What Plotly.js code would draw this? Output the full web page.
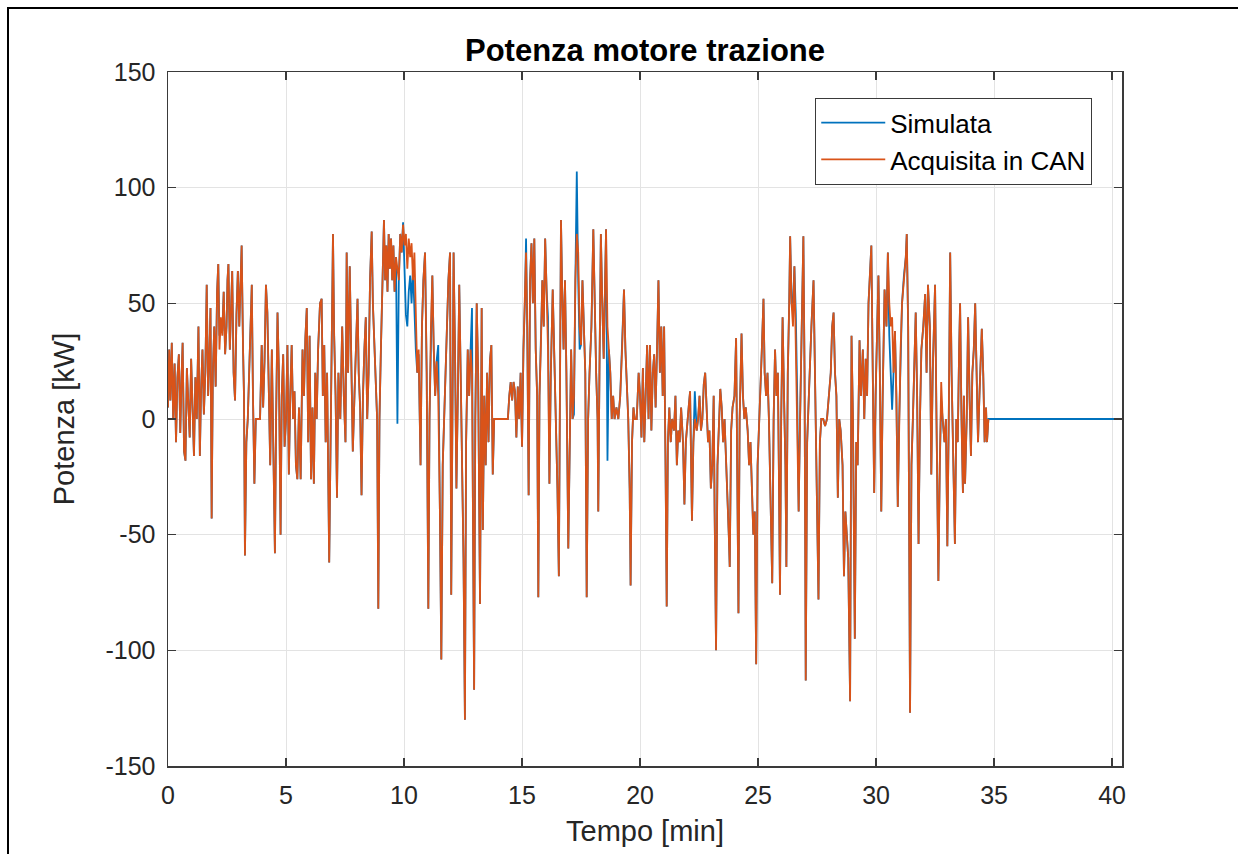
<!DOCTYPE html>
<html>
<head>
<meta charset="utf-8">
<script src="https://cdn.plot.ly/plotly-3.0.1.min.js"></script>
<style>
  html, body { margin: 0; padding: 0; background: #fff; }
  #wrap { position: relative; width: 1238px; height: 854px; overflow: hidden; }
  #chart { width: 1238px; height: 854px; }
  #frame { position: absolute; left: 7px; top: 7px; width: 1240px; height: 860px;
           border-left: 2px solid #000; border-top: 2px solid #000; pointer-events: none; }
</style>
</head>
<body>
<div id="wrap"><div id="chart"></div><div id="frame"></div></div>
<script>
// ---- DATA ----
const tempo = [
  0.00,0.05,0.10,0.16,0.22,0.28,0.34,0.40,0.46,0.52,
  0.58,0.62,0.68,0.74,0.80,0.86,0.92,0.98,1.04,1.10,
  1.16,1.22,1.29,1.35,1.40,1.46,1.52,1.58,1.64,1.70,
  1.76,1.80,1.85,1.90,1.96,2.02,2.08,2.13,2.18,2.24,
  2.30,2.36,2.42,2.48,2.52,2.56,2.62,2.68,2.72,2.78,
  2.84,2.90,2.96,3.02,3.08,3.12,3.18,3.22,3.26,3.32,
  3.38,3.44,3.50,3.55,3.60,3.66,3.72,3.80,3.90,3.97,
  4.03,4.09,4.15,4.21,4.27,4.33,4.40,4.46,4.53,4.58,
  4.64,4.70,4.77,4.82,4.88,4.94,5.00,5.06,5.12,5.18,
  5.24,5.30,5.36,5.42,5.48,5.55,5.62,5.70,5.76,5.82,
  5.88,5.94,6.00,6.06,6.12,6.18,6.24,6.30,6.36,6.44,
  6.51,6.56,6.62,6.68,6.74,6.83,6.90,6.99,7.04,7.10,
  7.16,7.22,7.30,7.38,7.45,7.52,7.57,7.63,7.70,7.76,
  7.83,7.90,7.97,8.03,8.08,8.14,8.20,8.26,8.32,8.38,
  8.44,8.50,8.56,8.63,8.68,8.74,8.80,8.86,8.91,8.96,
  9.02,9.08,9.15,9.20,9.25,9.30,9.35,9.40,9.45,9.50,
  9.55,9.60,9.66,9.72,9.78,9.84,9.90,9.96,10.02,10.08,
  10.14,10.20,10.26,10.32,10.38,10.44,10.50,10.56,10.62,10.70,
  10.76,10.82,10.89,10.96,11.03,11.08,11.14,11.20,11.26,11.32,
  11.38,11.45,11.52,11.58,11.64,11.70,11.76,11.82,11.88,11.95,
  12.00,12.05,12.10,12.16,12.22,12.28,12.34,12.40,12.46,12.52,
  12.58,12.63,12.70,12.76,12.82,12.88,12.92,12.97,13.02,13.08,
  13.14,13.18,13.22,13.29,13.34,13.40,13.46,13.52,13.58,13.64,
  13.70,13.76,13.82,13.90,14.00,14.10,14.20,14.30,14.40,14.46,
  14.52,14.58,14.64,14.70,14.76,14.82,14.88,14.94,15.00,15.06,
  15.12,15.17,15.22,15.28,15.34,15.40,15.46,15.52,15.58,15.64,
  15.69,15.74,15.80,15.86,15.92,15.98,16.04,16.10,16.16,16.22,
  16.30,16.36,16.42,16.50,16.56,16.60,16.65,16.70,16.76,16.82,
  16.88,16.96,17.02,17.08,17.14,17.20,17.26,17.32,17.38,17.44,
  17.50,17.56,17.62,17.68,17.74,17.80,17.86,17.94,18.02,18.08,
  18.14,18.20,18.23,18.28,18.34,18.40,18.46,18.52,18.56,18.62,
  18.68,18.74,18.80,18.86,18.92,19.00,19.08,19.16,19.24,19.32,
  19.38,19.44,19.50,19.56,19.60,19.66,19.72,19.78,19.86,19.94,
  20.00,20.06,20.12,20.18,20.24,20.30,20.36,20.42,20.48,20.54,
  20.60,20.66,20.72,20.78,20.84,20.90,20.96,21.02,21.08,21.13,
  21.18,21.24,21.30,21.36,21.44,21.50,21.56,21.62,21.68,21.74,
  21.82,21.88,21.94,22.00,22.06,22.12,22.16,22.20,22.26,22.32,
  22.40,22.46,22.52,22.58,22.64,22.70,22.76,22.82,22.88,22.94,
  23.00,23.06,23.12,23.16,23.22,23.28,23.34,23.40,23.46,23.52,
  23.58,23.64,23.70,23.76,23.80,23.86,23.92,24.00,24.07,24.12,
  24.17,24.22,24.30,24.36,24.42,24.48,24.56,24.62,24.68,24.74,
  24.80,24.86,24.92,24.98,25.04,25.10,25.16,25.23,25.28,25.34,
  25.40,25.46,25.52,25.60,25.66,25.72,25.78,25.84,25.88,25.93,
  25.98,26.04,26.10,26.16,26.20,26.26,26.32,26.36,26.42,26.48,
  26.54,26.60,26.66,26.72,26.78,26.84,26.88,26.92,26.97,27.02,
  27.08,27.14,27.20,27.26,27.35,27.42,27.48,27.56,27.62,27.68,
  27.76,27.84,27.92,28.00,28.08,28.14,28.20,28.26,28.32,28.38,
  28.44,28.50,28.58,28.64,28.70,28.76,28.82,28.90,28.96,29.02,
  29.10,29.16,29.22,29.30,29.36,29.44,29.50,29.56,29.62,29.68,
  29.74,29.80,29.86,29.92,29.98,30.04,30.10,30.16,30.22,30.28,
  30.36,30.44,30.50,30.56,30.62,30.68,30.74,30.80,30.86,30.92,
  30.98,31.04,31.10,31.18,31.26,31.30,31.36,31.44,31.50,31.56,
  31.62,31.68,31.74,31.80,31.86,31.92,32.00,32.08,32.14,32.20,
  32.28,32.34,32.40,32.46,32.50,32.56,32.64,32.70,32.76,32.82,
  32.90,32.96,33.02,33.08,33.14,33.20,33.28,33.34,33.40,33.46,
  33.52,33.56,33.62,33.68,33.72,33.77,33.84,33.90,33.96,34.02,
  34.08,34.14,34.20,34.26,34.32,34.38,34.44,34.48,34.54,34.60,
  34.66,34.70,34.76
];

const acquisitaCAN = [
  5,30,8,33,0,24,-10,18,28,-6,
  20,33,-14,-18,22,10,-8,26,4,-16,
  18,0,40,-16,12,30,2,20,58,10,
  30,48,-43,20,40,14,55,67,30,44,
  36,55,28,40,60,67,30,50,64,20,
  8,45,64,40,60,75,30,10,-59,-10,
  0,20,35,58,10,-28,0,0,0,32,
  5,25,58,46,10,-20,30,-10,-58,0,
  46,20,-50,10,28,-12,0,32,-24,10,
  32,0,12,-20,-26,5,-26,30,10,35,
  48,-10,36,-26,5,-28,20,0,30,50,
  52,10,32,-10,20,-62,10,80,36,10,
  -34,20,0,40,10,-10,72,20,66,30,
  -14,10,30,52,20,5,-33,10,30,44,
  0,20,60,81,50,30,10,0,-82,0,
  30,60,86,60,75,55,80,65,78,60,
  75,55,70,65,60,80,72,84,75,80,
  65,78,70,76,60,72,40,20,30,-20,
  40,60,72,20,-82,0,40,62,30,10,
  25,10,-40,-104,-20,0,20,40,60,72,
  -76,0,72,30,-30,10,58,20,-20,-60,
  -130,-10,30,10,30,20,-40,-117,0,50,
  20,-48,-80,48,-48,10,-20,20,-10,25,
  32,-24,0,0,0,0,0,0,0,10,
  16,8,16,12,-8,14,0,20,-12,30,
  50,72,40,-33,60,76,50,78,30,10,
  -77,10,32,60,40,78,56,30,-28,20,
  56,30,10,-30,-68,20,86,56,30,60,
  20,-56,0,30,0,10,60,80,72,40,
  32,60,40,20,-77,0,20,40,82,40,
  20,0,-40,20,80,50,26,60,82,40,
  30,20,0,10,0,5,0,10,30,56,
  30,15,0,-30,-72,-10,5,0,0,20,
  10,-8,22,-10,15,32,0,32,-5,20,
  28,5,30,60,20,40,10,40,-20,-81,
  -10,5,-10,0,-5,10,-20,-5,-10,5,
  -10,-37,-10,0,5,12,-20,-44,-10,0,
  -5,0,10,-5,0,15,20,5,-10,-5,
  -30,-20,10,-40,-100,-20,0,13,5,-10,
  0,-15,-30,-50,-64,-5,5,10,35,-30,
  -84,0,37,10,0,5,-5,-20,-10,-30,
  -50,-40,-106,-20,0,20,30,52,20,10,
  20,0,-30,-71,0,30,10,20,-20,-76,
  0,44,10,-20,-64,20,50,79,50,40,
  66,30,10,-40,0,30,50,79,20,-113,
  -10,10,30,40,60,20,-24,-78,-10,0,
  0,-3,0,10,20,40,46,20,10,-34,
  0,-5,-20,-68,-40,-50,-60,-122,36,0,
  -95,-10,-20,34,10,30,0,26,10,50,
  60,75,20,-32,10,40,62,20,-40,10,
  56,40,72,50,40,44,20,38,10,-38,
  0,30,50,60,70,80,40,-127,-20,0,
  20,46,10,-54,0,30,40,54,20,58,
  40,-24,20,40,58,0,-70,-20,16,0,
  -10,0,-55,0,72,20,-20,-54,0,-10,
  30,50,0,-32,10,-28,0,44,10,-16,
  20,30,50,20,-10,10,30,39,20,-10,
  5,-10,0
];

const simulata = [
  5,30,8,33,0,24,-10,18,28,-6,
  20,33,-14,-18,22,10,-8,26,4,-16,
  18,0,40,-16,12,30,2,20,58,10,
  30,48,-43,20,40,14,55,67,36,40,
  38,55,28,40,60,67,30,50,64,20,
  8,45,64,40,60,75,30,10,-59,-10,
  0,20,35,58,10,-28,0,0,0,32,
  5,25,58,46,10,-20,30,-10,-58,0,
  46,20,-50,10,28,-12,0,32,-24,10,
  32,0,12,-20,-26,5,-26,30,10,35,
  48,-10,36,-26,5,-28,20,0,30,50,
  52,10,32,-10,20,-62,10,80,36,10,
  -34,20,0,40,10,-10,72,20,66,30,
  -14,10,30,52,20,5,-33,10,30,44,
  0,20,60,81,50,30,10,0,-82,0,
  30,60,86,60,75,55,80,65,78,60,
  75,55,70,-2,60,80,72,85,60,45,
  40,55,62,50,65,45,30,20,28,-20,
  40,60,72,20,-82,0,40,62,30,10,
  25,32,-40,-104,-20,0,20,40,60,72,
  -76,0,72,30,-30,10,58,20,-20,-60,
  -130,-10,30,10,30,48,-40,-117,0,50,
  20,-48,-80,48,-48,10,-20,20,-10,25,
  32,-24,0,0,0,0,0,0,0,10,
  16,8,16,12,-8,14,0,20,-12,30,
  50,78,40,-33,60,76,50,78,30,10,
  -77,10,32,60,40,78,56,44,-28,20,
  56,30,10,-30,-68,20,86,56,30,60,
  20,-56,0,30,0,2,60,107,60,30,
  32,60,40,20,-77,0,20,40,82,40,
  20,0,-40,20,80,50,26,60,82,-18,
  30,20,0,10,0,5,0,10,30,56,
  30,15,0,-30,-72,-10,5,0,0,20,
  10,-8,22,-10,15,32,0,32,-5,20,
  28,5,30,60,20,40,10,40,-20,-81,
  -10,5,-10,0,-5,10,-20,-5,-10,5,
  -10,-37,-10,0,5,12,-20,-44,-10,12,
  -5,0,10,-5,0,15,20,5,-10,-5,
  -30,-20,10,-40,-100,-20,0,13,5,-10,
  0,-15,-30,-50,-64,-5,5,10,35,-30,
  -84,0,37,10,0,5,-5,-20,-10,-30,
  -50,-40,-106,-20,0,20,30,52,20,10,
  20,0,-30,-71,0,30,10,20,-20,-76,
  0,44,10,-20,-64,20,50,79,50,50,
  66,45,10,-40,0,30,50,79,20,-113,
  -10,10,30,40,60,20,-24,-78,-10,0,
  0,-3,0,10,20,40,46,20,10,-34,
  0,-5,-20,-68,-40,-50,-60,-122,36,0,
  -95,-10,-20,34,10,30,0,26,10,50,
  60,75,20,-32,10,40,62,20,-40,10,
  56,40,72,36,20,4,20,38,10,-38,
  0,30,50,62,70,80,40,-127,-20,0,
  20,46,10,-54,0,30,40,54,20,58,
  40,-24,20,40,58,0,-70,-20,8,0,
  -10,0,-55,0,72,20,-20,-54,0,-10,
  30,50,0,-32,10,-28,0,44,10,-16,
  20,30,50,20,-10,10,30,39,20,-10,
  5,-10,0
];

// simulated signal continues at zero after the acquisition ends
const tempoCoda = [35.00, 40.42];
const simulataCoda = [0, 0];

const xTicks = [0, 5, 10, 15, 20, 25, 30, 35, 40];
const xTickLabels = ['0', '5', '10', '15', '20', '25', '30', '35', '40'];
const yTicks = [-150, -100, -50, 0, 50, 100, 150];
const yTickLabels = ['-150', '-100', '-50', '0', '50', '100', '150'];

// ---- CHART ----
const FONT = 'Liberation Sans, Arial, Helvetica, sans-serif';
const TXT = '#262626';

const traces = [
  {
    x: tempo.concat(tempoCoda),
    y: simulata.concat(simulataCoda),
    type: 'scatter', mode: 'lines', name: 'Simulata',
    line: { color: '#0072BD', width: 1.8 }
  },
  {
    x: tempo,
    y: acquisitaCAN,
    type: 'scatter', mode: 'lines', name: 'Acquisita in CAN',
    line: { color: '#D95319', width: 1.8 }
  }
];

const axisCommon = {
  showgrid: true, gridcolor: '#e3e3e3', gridwidth: 1,
  zeroline: false,
  showline: true, linecolor: '#3a3a3a', linewidth: 1.5,
  mirror: 'ticks', ticks: 'inside', ticklen: 8, tickwidth: 1.2, tickcolor: '#3a3a3a',
  tickfont: { family: FONT, size: 25, color: TXT },
  ticklabelstandoff: 6
};

const layout = {
  width: 1238, height: 854,
  paper_bgcolor: '#ffffff', plot_bgcolor: '#ffffff',
  margin: { l: 168, r: 116, t: 72, b: 88, pad: 0 },
  showlegend: true,
  title: {
    text: '<b>Potenza motore trazione</b>',
    font: { family: FONT, size: 31, color: '#000000' },
    x: 0.5, xref: 'paper', xanchor: 'center',
    y: 1 - 50 / 854, yref: 'container', yanchor: 'middle'
  },
  xaxis: Object.assign({}, axisCommon, {
    range: [0, 40.42],
    tickmode: 'array', tickvals: xTicks, ticktext: xTickLabels,
    title: { text: 'Tempo [min]', font: { family: FONT, size: 29, color: TXT }, standoff: 13 }
  }),
  yaxis: Object.assign({}, axisCommon, {
    range: [-150, 150],
    tickmode: 'array', tickvals: yTicks, ticktext: yTickLabels,
    title: { text: 'Potenza [kW]', font: { family: FONT, size: 29, color: TXT }, standoff: 22 }
  }),
  legend: {
    x: 0.9686, xanchor: 'right', xref: 'paper',
    y: 0.9625, yanchor: 'top', yref: 'paper',
    bgcolor: '#ffffff', bordercolor: '#3a3a3a', borderwidth: 1.2,
    font: { family: FONT, size: 26, color: '#000000' },
    tracegroupgap: 0, itemwidth: 64
  }
};

Plotly.newPlot('chart', traces, layout, { displayModeBar: false, staticPlot: true });
</script>
</body>
</html>
